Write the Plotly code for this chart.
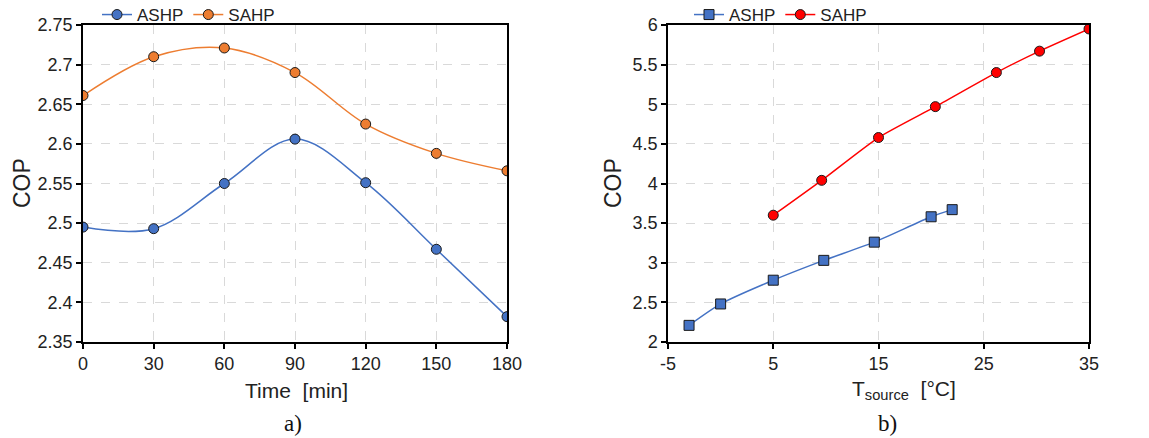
import plotly.graph_objects as go

# ---- Data: panel a) ----
time_min = [0, 30, 60, 90, 120, 150, 180]
cop_ashp_a = [2.495, 2.493, 2.550, 2.606, 2.551, 2.467, 2.382]
cop_sahp_a = [2.661, 2.710, 2.721, 2.690, 2.625, 2.588, 2.566]

# ---- Data: panel b) ----
t_source_ashp = [-3, 0, 5, 9.8, 14.6, 20, 22]
cop_ashp_b = [2.21, 2.48, 2.78, 3.03, 3.26, 3.58, 3.67]
t_source_sahp = [5, 9.6, 15, 20.4, 26.2, 30.3, 35]
cop_sahp_b = [3.60, 4.04, 4.58, 4.97, 5.40, 5.67, 5.95]
t_ticks_b = [-5, 5, 15, 25, 35]
t_ticklabels_b = ["-5", "5", "15", "25", "35"]

BLUE = "#4472C4"
ORANGE = "#ED7D31"
RED = "#FF0000"
FONT = "Liberation Sans, Arial, sans-serif"

# page body has an 8px margin: size the figure to fit the window and offset coords
OFF = 8
W, H = 1149 - OFF, 438 - OFF


def px(x):
    return (x - OFF) / W


def py(y):
    return 1 - (y - OFF) / H


fig = go.Figure()

fig.add_trace(go.Scatter(
    x=time_min, y=cop_ashp_a, name="ASHP", mode="lines+markers",
    line=dict(color=BLUE, width=1.5, shape="spline", smoothing=1),
    marker=dict(symbol="circle", size=10, color=BLUE, line=dict(color="#1a1a1a", width=1)),
    xaxis="x", yaxis="y", legend="legend"))
fig.add_trace(go.Scatter(
    x=time_min, y=cop_sahp_a, name="SAHP", mode="lines+markers",
    line=dict(color=ORANGE, width=1.5, shape="spline", smoothing=1),
    marker=dict(symbol="circle", size=10, color=ORANGE, line=dict(color="#1a1a1a", width=1)),
    xaxis="x", yaxis="y", legend="legend"))

fig.add_trace(go.Scatter(
    x=t_source_ashp, y=cop_ashp_b, name="ASHP", mode="lines+markers",
    line=dict(color=BLUE, width=1.5, shape="spline", smoothing=0.6),
    marker=dict(symbol="square", size=10, color=BLUE, line=dict(color="#1a1a1a", width=1)),
    xaxis="x2", yaxis="y2", legend="legend2"))
fig.add_trace(go.Scatter(
    x=t_source_sahp, y=cop_sahp_b, name="SAHP", mode="lines+markers",
    line=dict(color=RED, width=1.5, shape="spline", smoothing=0.6),
    marker=dict(symbol="circle", size=10, color=RED, line=dict(color="#1a1a1a", width=1)),
    xaxis="x2", yaxis="y2", legend="legend2"))

axis_common = dict(
    showline=True, linecolor="black", linewidth=1.5, mirror=True,
    ticks="outside", ticklen=5, tickcolor="black", tickwidth=1.5,
    showgrid=True, gridcolor="#D9D9D9", griddash="dash", gridwidth=1,
    zeroline=False, automargin=False,
    tickfont=dict(family=FONT, size=18, color="#222"),
)

ydom = [py(342), py(25)]
legend_common = dict(orientation="h", xanchor="left", yanchor="middle",
                     font=dict(family=FONT, size=17, color="#222"),
                     bgcolor="rgba(0,0,0,0)", itemwidth=30, tracegroupgap=0)

fig.update_layout(
    width=W, height=H,
    margin=dict(l=0, r=0, t=0, b=0, autoexpand=False),
    paper_bgcolor="white", plot_bgcolor="white",
    font=dict(family=FONT, color="#222"),
    xaxis=dict(domain=[px(83), px(507)], range=[0, 180], tickvals=time_min,
               anchor="y", **axis_common),
    yaxis=dict(domain=ydom, range=[2.35, 2.75], dtick=0.05, tickformat="~g",
               anchor="x", **axis_common),
    xaxis2=dict(domain=[px(668), px(1089)], range=[-5, 35], tickvals=t_ticks_b,
                ticktext=t_ticklabels_b, anchor="y2", **axis_common),
    yaxis2=dict(domain=ydom, range=[2, 6], dtick=0.5, tickformat="~g",
                anchor="x2", **axis_common),
    legend=dict(x=px(97), y=py(15), **legend_common),
    legend2=dict(x=px(689), y=py(15), **legend_common),
    showlegend=True,
)

ann = [
    dict(text="COP", x=px(22), y=py(183), textangle=-90, size=23),
    dict(text="COP", x=px(613), y=py(183), textangle=-90, size=23),
    dict(text="Time  [min]", x=px(296), y=py(390), size=21),
    dict(text="T<sub>source</sub>  [°C]", x=px(904), y=py(390), size=21),
]
for a in ann:
    size = a.pop("size")
    fig.add_annotation(xref="paper", yref="paper", showarrow=False,
                       xanchor="center", yanchor="middle",
                       font=dict(family=FONT, size=size, color="#222"), **a)

for txt, xc in [("a)", 293), ("b)", 887)]:
    fig.add_annotation(text=txt, xref="paper", yref="paper", x=px(xc), y=py(423),
                       showarrow=False, xanchor="center", yanchor="middle",
                       font=dict(family="Liberation Serif, Times New Roman, serif", size=23, color="#111"))

fig.write_html("out.html")
